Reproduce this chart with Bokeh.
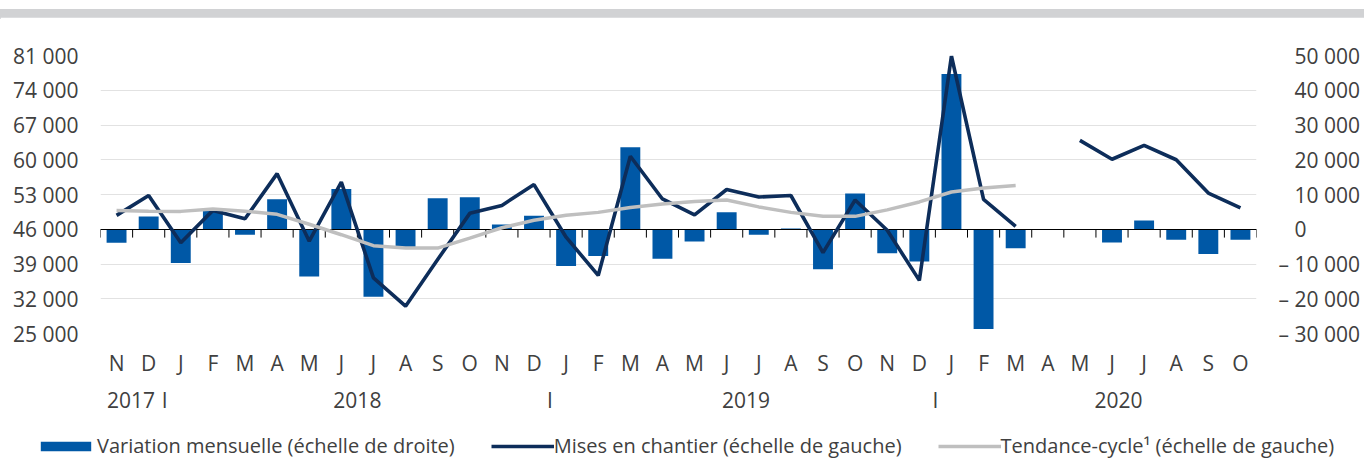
import math
from bokeh.plotting import figure
from bokeh.models import (Range1d, LinearAxis, FixedTicker, CustomJSTickFormatter,
                          Legend, LegendItem, Div, ColumnDataSource)
from bokeh.layouts import column
from bokeh.embed import file_html
from bokeh.resources import INLINE

nan = float("nan")

# ---- data -------------------------------------------------------------
months = ["N", "D",
          "J", "F", "M", "A", "M", "J", "J", "A", "S", "O", "N", "D",
          "J", "F", "M", "A", "M", "J", "J", "A", "S", "O", "N", "D",
          "J", "F", "M", "A", "M", "J", "J", "A", "S", "O"]

years = ["2017", "2018", "2019", "2020"]
year_pos = [0.45, 7.5, 19.6, 31.2]
sep_pos = [1.5, 13.5, 25.5]

# Mises en chantier (left axis)
mises = [48800, 52800,
         43300, 49800, 48100, 57200, 43600, 55500, 36200, 30500, 39900, 49200, 50800, 55000,
         44400, 36700, 60700, 52100, 48900, 54000, 52500, 52800, 41300, 51900, 45800, 35700,
         80900, 52000, 46600, nan, 63900, 60100, 62900, 60000, 53300, 50300]

# Tendance-cycle (left axis)
trend = [49800, 49650,
         49600, 50100, 49650, 49000, 47000, 44900, 42700, 42200, 42200, 44200, 46300, 47800,
         48800, 49400, 50400, 51100, 51600, 51900, 50500, 49400, 48600, 48600, 49900, 51500,
         53500, 54300, 54800, nan, nan, nan, nan, nan, nan, nan]

# Variation mensuelle (right axis)
variation = [-3900, 3700,
             -9700, 5600, -1600, 8600, -13600, 11600, -19400, -5200, 8900, 9200, 1400, 3900,
             -10600, -7700, 23600, -8500, -3500, 4900, -1600, 200, -11500, 10300, -6900, -9300,
             44700, -28700, -5500, nan, nan, -3800, 2500, -3000, -7100, -3000]

left_ticks = [25000, 32000, 39000, 46000, 53000, 60000, 67000, 74000, 81000]
right_ticks = [-30000, -20000, -10000, 0, 10000, 20000, 30000, 40000, 50000]

legend_labels = ["Variation mensuelle (échelle de droite)",
                 "Mises en chantier (échelle de gauche)",
                 "Tendance-cycle¹ (échelle de gauche)"]


def fr(v):
    return f"{abs(v):,}".replace(",", " ")


left_labels = {t: fr(t) for t in left_ticks}
right_labels = {t: ("\u2013 " + fr(t)) if t < 0 else ("\u2002 " + fr(t)) for t in right_ticks}

FONT = "Open Sans"
FS = "21px"
TXT = "#404040"
BLUE = "#0058a6"
NAVY = "#0d2d5a"
GREY = "#bfbfbf"
NAVY_W = 3.6
GREY_W = 3.5

x = list(range(len(months)))
src = ColumnDataSource(dict(x=x, mises=mises, trend=trend, variation=variation))

p = figure(width=1364, height=406,
           x_range=Range1d(-0.5, len(months) - 0.5),
           y_range=Range1d(left_ticks[0], left_ticks[-1]),
           output_backend="svg", toolbar_location=None,
           min_border_left=100, min_border_right=108, min_border_top=38, min_border_bottom=90)
p.frame_align = False
p.extra_y_ranges = {"right": Range1d(right_ticks[0], right_ticks[-1])}
p.outline_line_color = None
p.background_fill_color = "white"
p.border_fill_color = "white"

# grid
p.xgrid.visible = False
p.ygrid.ticker = FixedTicker(ticks=left_ticks)
p.ygrid.grid_line_color = "#e2e2e2"
p.ygrid.grid_line_width = 1

# bars
bars = p.vbar(x="x", top="variation", bottom=0, width=0.62, source=src,
              fill_color=BLUE, line_color=None, y_range_name="right")

# zero line + tick marks at category boundaries
p.hspan(y=[0], y_range_name="right", line_color="black", line_width=1.2)
bounds = [i - 0.5 for i in range(len(months) + 1)]
p.segment(x0=bounds, x1=bounds, y0=[0] * len(bounds), y1=[-2400] * len(bounds),
          y_range_name="right", line_color="black", line_width=1)

# lines
l1 = p.line(x="x", y="mises", source=src, line_color=NAVY, line_width=NAVY_W)
l2 = p.line(x="x", y="trend", source=src, line_color=GREY, line_width=GREY_W)


def style_axis(ax, standoff):
    ax.axis_line_color = None
    ax.major_tick_line_color = None
    ax.minor_tick_line_color = None
    ax.major_tick_out = 0
    ax.major_tick_in = 0
    ax.major_label_standoff = standoff
    ax.major_label_text_font = FONT
    ax.major_label_text_font_size = FS
    ax.major_label_text_color = TXT


# left axis
ya = p.yaxis[0]
ya.ticker = FixedTicker(ticks=left_ticks)
ya.major_label_overrides = left_labels
style_axis(ya, 22)

# right axis
ra = LinearAxis(y_range_name="right", ticker=FixedTicker(ticks=right_ticks))
ra.major_label_overrides = right_labels
style_axis(ra, 22)
p.add_layout(ra, "right")

# month axis
xa = p.xaxis[0]
xa.ticker = FixedTicker(ticks=x)
xa.formatter = CustomJSTickFormatter(args=dict(names=months),
                                     code="return names[Math.round(tick)];")
style_axis(xa, 15)

# year axis
ypos = year_pos + sep_pos
ynames = years + ["I"] * len(sep_pos)
ga = LinearAxis(ticker=FixedTicker(ticks=ypos),
                formatter=CustomJSTickFormatter(args=dict(pos=ypos, names=ynames), code="""
const i = pos.findIndex(q => Math.abs(q - tick) < 1e-6);
return i >= 0 ? names[i] : "";
"""))
style_axis(ga, 6)
p.add_layout(ga, "below")

# ---- legend strip (separate figure so the legend is not clipped) -------
lg = figure(width=1364, height=36, x_range=Range1d(0, 1), y_range=Range1d(0, 1),
            output_backend="svg", toolbar_location=None,
            x_axis_type=None, y_axis_type=None,
            min_border_left=0, min_border_right=0, min_border_top=0, min_border_bottom=0)
lg.frame_align = False
lg.outline_line_color = None
lg.grid.visible = False
# legend swatches only: placed outside the visible range of this strip
lb = lg.vbar(x=[-5], top=[-5], bottom=[-6], width=0.5, fill_color=BLUE, line_color=None)
ll1 = lg.line(x=[-6, -5], y=[-5, -5], line_color=NAVY, line_width=NAVY_W)
ll2 = lg.line(x=[-6, -5], y=[-5, -5], line_color=GREY, line_width=GREY_W)
legend = Legend(items=[
    LegendItem(label=legend_labels[0], renderers=[lb]),
    LegendItem(label=legend_labels[1], renderers=[ll1]),
    LegendItem(label=legend_labels[2], renderers=[ll2]),
], orientation="horizontal", location=(34, 0), glyph_width=63, glyph_height=12,
    label_standoff=0, spacing=36, padding=0, margin=0, border_line_color=None,
    background_fill_alpha=0, label_text_font=FONT, label_text_font_size="20px",
    label_text_color=TXT)
lg.add_layout(legend)

header = Div(text='<div style="background:#d1d2d4;width:1364px;height:10px;"></div>',
             width=1364, height=10, margin=(7, 0, 0, 0))

layout = column(header, p, lg, spacing=0)
open("out.html", "w").write(file_html(layout, INLINE))
